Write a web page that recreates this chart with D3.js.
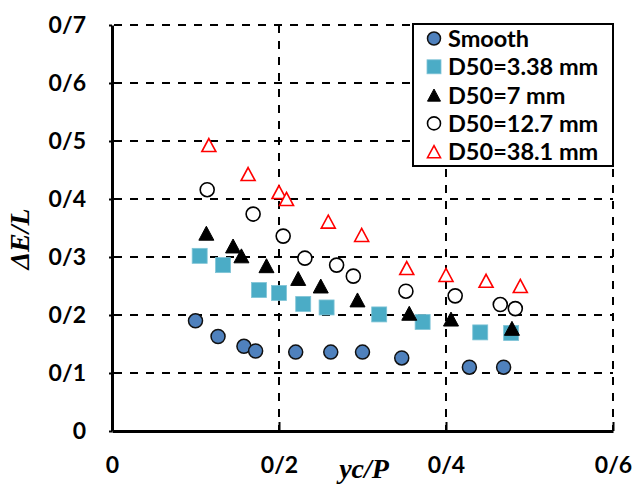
<!DOCTYPE html>
<html><head><meta charset="utf-8">
<script src="https://cdn.jsdelivr.net/npm/d3@7"></script>
<style>
html,body{margin:0;padding:0;background:#fff;}
svg{display:block;}
</style></head>
<body>
<svg id="chart" width="634" height="484"></svg>
<script>
// ---- data ----
const seriesNames = ["Smooth", "D50=3.38 mm", "D50=7 mm", "D50=12.7 mm", "D50=38.1 mm"];
const smoothX = [0.100, 0.127, 0.158, 0.172, 0.220, 0.262, 0.300, 0.347, 0.428, 0.469];
const smoothY = [0.190, 0.163, 0.146, 0.138, 0.136, 0.136, 0.136, 0.126, 0.110, 0.110];
const d338X = [0.105, 0.133, 0.176, 0.200, 0.229, 0.257, 0.320, 0.372, 0.441, 0.478];
const d338Y = [0.302, 0.286, 0.243, 0.238, 0.219, 0.213, 0.201, 0.188, 0.170, 0.169];
const d7X = [0.113, 0.145, 0.155, 0.185, 0.223, 0.250, 0.294, 0.356, 0.406, 0.479];
const d7Y = [0.341, 0.319, 0.302, 0.285, 0.263, 0.250, 0.226, 0.203, 0.193, 0.177];
const d127X = [0.114, 0.169, 0.205, 0.231, 0.269, 0.289, 0.352, 0.411, 0.465, 0.483];
const d127Y = [0.416, 0.374, 0.336, 0.298, 0.286, 0.267, 0.241, 0.233, 0.218, 0.211];
const d381X = [0.116, 0.163, 0.200, 0.209, 0.259, 0.299, 0.353, 0.400, 0.448, 0.489];
const d381Y = [0.493, 0.443, 0.412, 0.400, 0.361, 0.338, 0.281, 0.269, 0.259, 0.250];
const xTicks = [0, 0.2, 0.4, 0.6];
const xTickLabels = ["0", "0/2", "0/4", "0/6"];
const yTicks = [0, 0.1, 0.2, 0.3, 0.4, 0.5, 0.6, 0.7];
const yTickLabels = ["0", "0/1", "0/2", "0/3", "0/4", "0/5", "0/6", "0/7"];
const xTitle = "yc/P";
const yTitle = "ΔE/L";

// ---- layout ----
const svg = d3.select("#chart");
const L = 112, R = 613, T = 25, B = 431;
const x = d3.scaleLinear().domain([0, 0.6]).range([L, R]);
const y = d3.scaleLinear().domain([0, 0.7]).range([B, T]);
const tickFont = "Lato, 'Open Sans', sans-serif";

// gridlines
const grid = svg.append("g");
grid.selectAll("line.h").data(yTicks.filter(d => d > 0)).enter().append("line")
  .attr("x1", L + 2).attr("x2", R).attr("y1", d => y(d)).attr("y2", d => y(d))
  .attr("stroke", "#000").attr("stroke-width", 2).attr("stroke-dasharray", "8,8");
grid.selectAll("line.v").data(xTicks.filter(d => d > 0)).enter().append("line")
  .attr("y1", T).attr("y2", B).attr("x1", d => x(d)).attr("x2", d => x(d))
  .attr("stroke", "#000").attr("stroke-width", 2).attr("stroke-dasharray", "8,8");

// axes
const xAxis = d3.axisBottom(x).tickValues(xTicks).tickFormat((d, i) => xTickLabels[i]).tickSizeInner(-9).tickSizeOuter(0).tickPadding(30);
const gx = svg.append("g").attr("transform", `translate(0,${B})`).call(xAxis);
gx.select(".domain").attr("stroke", "#000").attr("stroke-width", 3);
gx.selectAll(".tick line").attr("stroke", "#000").attr("stroke-width", 2);
gx.selectAll(".tick text").attr("font-family", tickFont).attr("font-weight", "bold").attr("font-size", 23).attr("fill", "#000").attr("dy", "0.71em").attr("y", 26);

const yAxis = d3.axisLeft(y).tickValues(yTicks).tickFormat((d, i) => yTickLabels[i]).tickSizeInner(3).tickSizeOuter(0).tickPadding(23);
const gy = svg.append("g").attr("transform", `translate(${L},0)`).call(yAxis);
gy.select(".domain").attr("stroke", "#000").attr("stroke-width", 3);
gy.selectAll(".tick line").attr("stroke", "#000").attr("stroke-width", 2);
gy.selectAll(".tick text").attr("font-family", tickFont).attr("font-weight", "bold").attr("font-size", 23).attr("fill", "#000");

// titles
svg.append("text").attr("transform", "translate(29,239) rotate(-90)")
  .attr("text-anchor", "middle").attr("font-family", "'Liberation Serif', 'Times New Roman', serif")
  .attr("font-style", "italic").attr("font-weight", "bold").attr("font-size", 28).text(yTitle);
svg.append("text").attr("x", 364).attr("y", 478)
  .attr("text-anchor", "middle").attr("font-family", "'Liberation Serif', 'Times New Roman', serif")
  .attr("font-style", "italic").attr("font-weight", "bold").attr("font-size", 28).text(xTitle);

// marker shapes
function triPath(s) { // bbox-centered triangle, side s
  const h = s * 0.93;
  return `M0,${-h/2}L${s/2},${h/2}L${-s/2},${h/2}Z`;
}
const styles = [
  {type: "circle", r: 7, fill: "#4F81BD", stroke: "#111", sw: 1.5},
  {type: "square", s: 15, fill: "#4BACC6", stroke: "#7fc4d6", sw: 0.8},
  {type: "tri", s: 15, fill: "#000", stroke: "#000", sw: 1},
  {type: "circle", r: 7, fill: "#fff", stroke: "#000", sw: 1.6},
  {type: "tri", s: 14, fill: "#fff", stroke: "#f00", sw: 1.6}
];
function drawMarker(g, st) {
  if (st.type === "circle") g.append("circle").attr("r", st.r);
  else if (st.type === "square") g.append("rect").attr("x", -st.s/2).attr("y", -st.s/2).attr("width", st.s).attr("height", st.s);
  else g.append("path").attr("d", triPath(st.s));
  g.attr("fill", st.fill).attr("stroke", st.stroke).attr("stroke-width", st.sw);
}

const seriesX = [smoothX, d338X, d7X, d127X, d381X];
const seriesY = [smoothY, d338Y, d7Y, d127Y, d381Y];
seriesX.forEach((xs, si) => {
  const g = svg.append("g");
  xs.forEach((xv, i) => {
    const m = g.append("g").attr("transform", `translate(${x(xv)},${y(seriesY[si][i])})`);
    drawMarker(m, styles[si]);
  });
});

// legend
const lg = svg.append("g");
lg.append("rect").attr("x", 413).attr("y", 24).attr("width", 200).attr("height", 142)
  .attr("fill", "#fff").attr("stroke", "#000").attr("stroke-width", 2);
seriesNames.forEach((n, i) => {
  const cy = 38.5 + i * 28.3;
  const m = lg.append("g").attr("transform", `translate(434,${cy})`);
  const st = Object.assign({}, styles[i]);
  if (st.type === "circle") st.r = 6.5;
  if (st.type === "square") st.s = 14;
  if (st.type === "tri") st.s = 13;
  drawMarker(m, st);
  lg.append("text").attr("x", 448).attr("y", cy).attr("dy", "0.36em")
    .attr("font-family", tickFont).attr("font-weight", "bold").attr("font-size", 23.5).text(n);
});
</script>
</body></html>
